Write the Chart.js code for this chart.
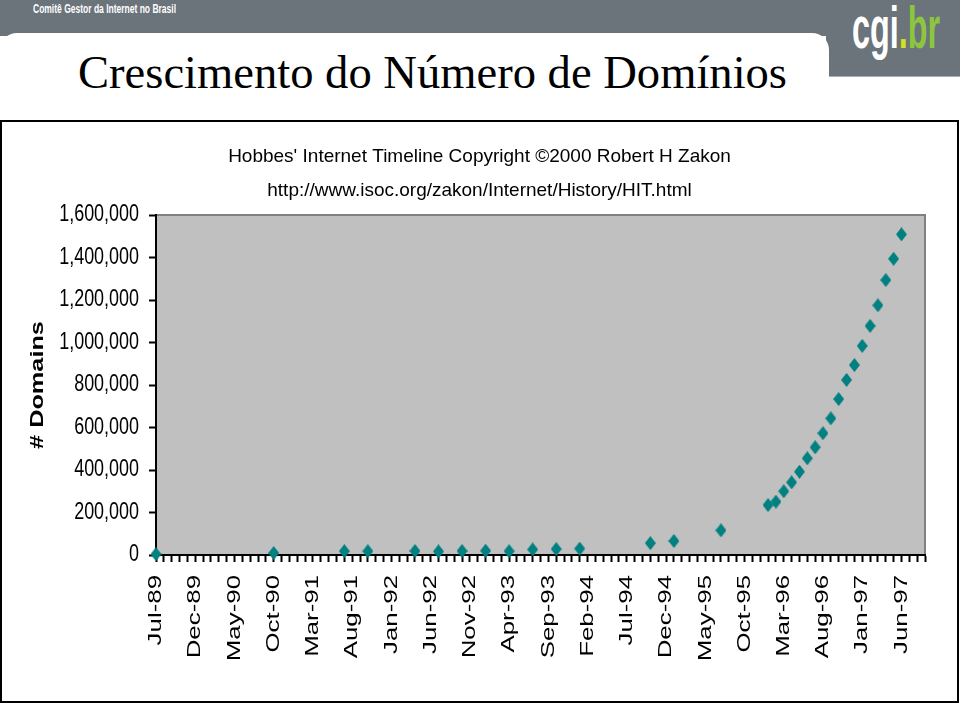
<!DOCTYPE html>
<html>
<head>
<meta charset="utf-8">
<script src="https://cdn.jsdelivr.net/npm/chart.js@4/dist/chart.umd.min.js"></script>
<style>
html,body{margin:0;padding:0;background:#fff;width:960px;height:704px;overflow:hidden;position:relative;font-family:"Liberation Sans",Arial,sans-serif}
.bar{position:absolute;left:0;top:0;width:960px;height:36px;background:#6b737b}
.logoBlock{position:absolute;left:826px;top:0;width:134px;height:76px;background:#6b737b;border-bottom:1px solid #a9aeb3}
.panel{position:absolute;left:0;top:33px;width:829px;height:70px;background:#fff;border-radius:17px 17px 0 0}
.org{position:absolute;left:33px;top:3px;font:bold 12px "Liberation Sans",Arial,sans-serif;color:#fff;white-space:nowrap;line-height:1;transform-origin:0 0}
.logo{position:absolute;left:852px;top:-2px;font:bold 60px "Liberation Sans",Arial,sans-serif;line-height:1;white-space:nowrap;transform-origin:0 0;color:#fff}
.logo .g{color:#8cc63f}
.logo .d{color:#d2e021}
.title{position:absolute;left:78px;top:49px;font:47px "Liberation Serif","Times New Roman",serif;line-height:1;white-space:nowrap;transform-origin:0 0;color:#000}
.box{position:absolute;left:0;top:120px;width:955px;height:579px;border:2px solid #000;background:#fff}
canvas{display:block}
</style>
</head>
<body>
<div class="bar"></div>
<div class="logoBlock"></div>
<div class="panel"></div>
<div class="org" id="org">Comitê Gestor da Internet no Brasil</div>
<div class="logo" id="logo">cgi<span class="d">.</span><span class="g">br</span></div>
<div class="title" id="ttl">Crescimento do Número de Domínios</div>
<div class="box"><canvas id="c" width="955" height="579"></canvas></div>
<script>
// ---------- data ----------
const monthNames = ['Jan','Feb','Mar','Apr','May','Jun','Jul','Aug','Sep','Oct','Nov','Dec'];
const axisStart = { year: 1989, month: 6 };   // Jul-89
const axisEnd   = { year: 1997, month: 8 };   // Sep-97
const labelEvery = 5;                          // a tick label every 5 months

const sampleMonths = ['Jul-89','Oct-90','Jul-91','Oct-91','Apr-92','Jul-92','Oct-92','Jan-93','Apr-93',
  'Jul-93','Oct-93','Jan-94','Oct-94','Jan-95','Jul-95','Jan-96','Feb-96','Mar-96','Apr-96','May-96',
  'Jun-96','Jul-96','Aug-96','Sep-96','Oct-96','Nov-96','Dec-96','Jan-97','Feb-97','Mar-97','Apr-97',
  'May-97','Jun-97'];
const domains = [3900,9300,18000,18000,19000,17000,19000,20000,18000,
  26000,28000,30000,56000,66000,116000,235000,251000,300000,342000,392000,
  455000,507000,573000,643000,734000,824000,894000,984000,1078000,1175000,1294000,
  1394000,1509000];

const yMin = 0, yMax = 1600000, yStep = 200000;
const chartTitle = ["Hobbes' Internet Timeline Copyright \u00A92000 Robert H Zakon",
                    "http://www.isoc.org/zakon/Internet/History/HIT.html"];
const yTitle = '# Domains';

// category labels (every month on the axis)
const categories = [];
for (let y = axisStart.year, m = axisStart.month; y < axisEnd.year || (y === axisEnd.year && m <= axisEnd.month); ) {
  categories.push(monthNames[m] + '-' + String(y).slice(2));
  m++; if (m > 11) { m = 0; y++; }
}

// ---------- header text fitting ----------
function fitText(id, w){
  const el = document.getElementById(id);
  const cur = el.getBoundingClientRect().width;
  el.style.transform = 'scaleX(' + (w / cur) + ')';
}
fitText('org', 143);
fitText('logo', 88);
fitText('ttl', 709);

// ---------- marker ----------
function diamond(){
  const c = document.createElement('canvas');
  c.width = 11; c.height = 14;
  const g = c.getContext('2d');
  g.fillStyle = '#008080';
  g.beginPath(); g.moveTo(5.5,0); g.lineTo(11,7); g.lineTo(5.5,14); g.lineTo(0,7); g.closePath(); g.fill();
  return c;
}

// wrap a scale drawing method with an extra canvas transform (text stretch like the original bitmap)
function patch(scale, method, fn){
  if (scale['_p_' + method]) return;
  const orig = scale[method].bind(scale);
  scale[method] = function(...args){
    const ctx = this.ctx; ctx.save(); fn(ctx, this); orig(...args); ctx.restore();
  };
  scale['_p_' + method] = true;
}

const X_TICK_LEN = 7, X_LABEL_GAP = 13, X_STRETCH = 1.36;
const Y_TICK_LEN = 7, Y_LABEL_PAD = 10, Y_SQUEEZE = 0.78, Y_TITLE_STRETCH = 1.33;

const plotBg = {
  id: 'plotBg',
  beforeDraw(chart){
    const {ctx, chartArea: a} = chart;
    ctx.save();
    ctx.fillStyle = '#c0c0c0';
    ctx.fillRect(a.left, a.top, a.right - a.left, a.bottom - a.top);
    ctx.strokeStyle = '#808080'; ctx.lineWidth = 2;
    ctx.beginPath(); ctx.moveTo(a.left, a.top); ctx.lineTo(a.right, a.top); ctx.lineTo(a.right, a.bottom); ctx.stroke();
    ctx.restore();
    patch(chart.scales.x, 'drawLabels', (c, s) => {
      const A = s.top + X_TICK_LEN;
      c.translate(0, X_LABEL_GAP + A); c.scale(1, X_STRETCH); c.translate(0, -A);
    });
    patch(chart.scales.y, 'drawLabels', (c, s) => {
      const X = s.right - Y_TICK_LEN - Y_LABEL_PAD;
      c.translate(X, 0); c.scale(Y_SQUEEZE, 1); c.translate(-X, 0);
    });
    patch(chart.scales.y, 'drawTitle', (c, s) => {
      const C = (s.top + s.bottom) / 2;
      c.translate(0, C); c.scale(1, Y_TITLE_STRETCH); c.translate(0, -C);
    });
  }
};

new Chart(document.getElementById('c'), {
  type: 'line',
  data: {
    labels: categories,
    datasets: [{
      data: sampleMonths.map((m, i) => ({ x: m, y: domains[i] })),
      showLine: false,
      pointStyle: diamond(),
      pointRadius: 6,
      clip: false
    }]
  },
  options: {
    responsive: false,
    animation: false,
    devicePixelRatio: 1,
    layout: { padding: 0 },
    plugins: {
      legend: { display: false },
      tooltip: { enabled: false },
      title: {
        display: true, text: chartTitle, color: '#000',
        font: { family: '"Liberation Sans", Arial, sans-serif', size: 19, weight: 'normal', lineHeight: 34/19 },
        padding: { top: 18, bottom: 7 }
      }
    },
    scales: {
      x: {
        type: 'category', offset: false,
        grid: { offset: false, drawOnChartArea: false, drawTicks: true, tickLength: X_TICK_LEN, tickColor: '#000', tickWidth: 2 },
        border: { display: true, color: '#000', width: 2 },
        ticks: {
          autoSkip: false, minRotation: 90, maxRotation: 90, padding: 0, color: '#000',
          font: { family: '"Liberation Sans", Arial, sans-serif', size: 19 },
          callback: function(v, i){ return i % labelEvery === 0 ? this.getLabelForValue(v) : ''; }
        },
        afterFit(s){ s.height = 146; }
      },
      y: {
        type: 'linear', position: 'left', min: yMin, max: yMax,
        grid: { drawOnChartArea: false, tickLength: Y_TICK_LEN, tickColor: '#000', tickWidth: 2 },
        border: { color: '#000', width: 2 },
        ticks: {
          stepSize: yStep, padding: Y_LABEL_PAD, color: '#000',
          font: { family: '"Liberation Sans", Arial, sans-serif', size: 23 },
          callback: v => v.toLocaleString('en-US')
        },
        title: {
          display: true, text: yTitle, color: '#000',
          font: { family: '"Liberation Sans", Arial, sans-serif', size: 19, weight: 'bold', lineHeight: 1 },
          padding: { top: 26, bottom: 0 }
        },
        afterFit(s){ s.width = 154; }
      },
      yR: {
        position: 'right', display: true,
        grid: { display: false }, border: { display: false }, ticks: { display: false },
        afterFit(s){ s.width = 32; }
      }
    }
  },
  plugins: [plotBg]
});
</script>
</body>
</html>
